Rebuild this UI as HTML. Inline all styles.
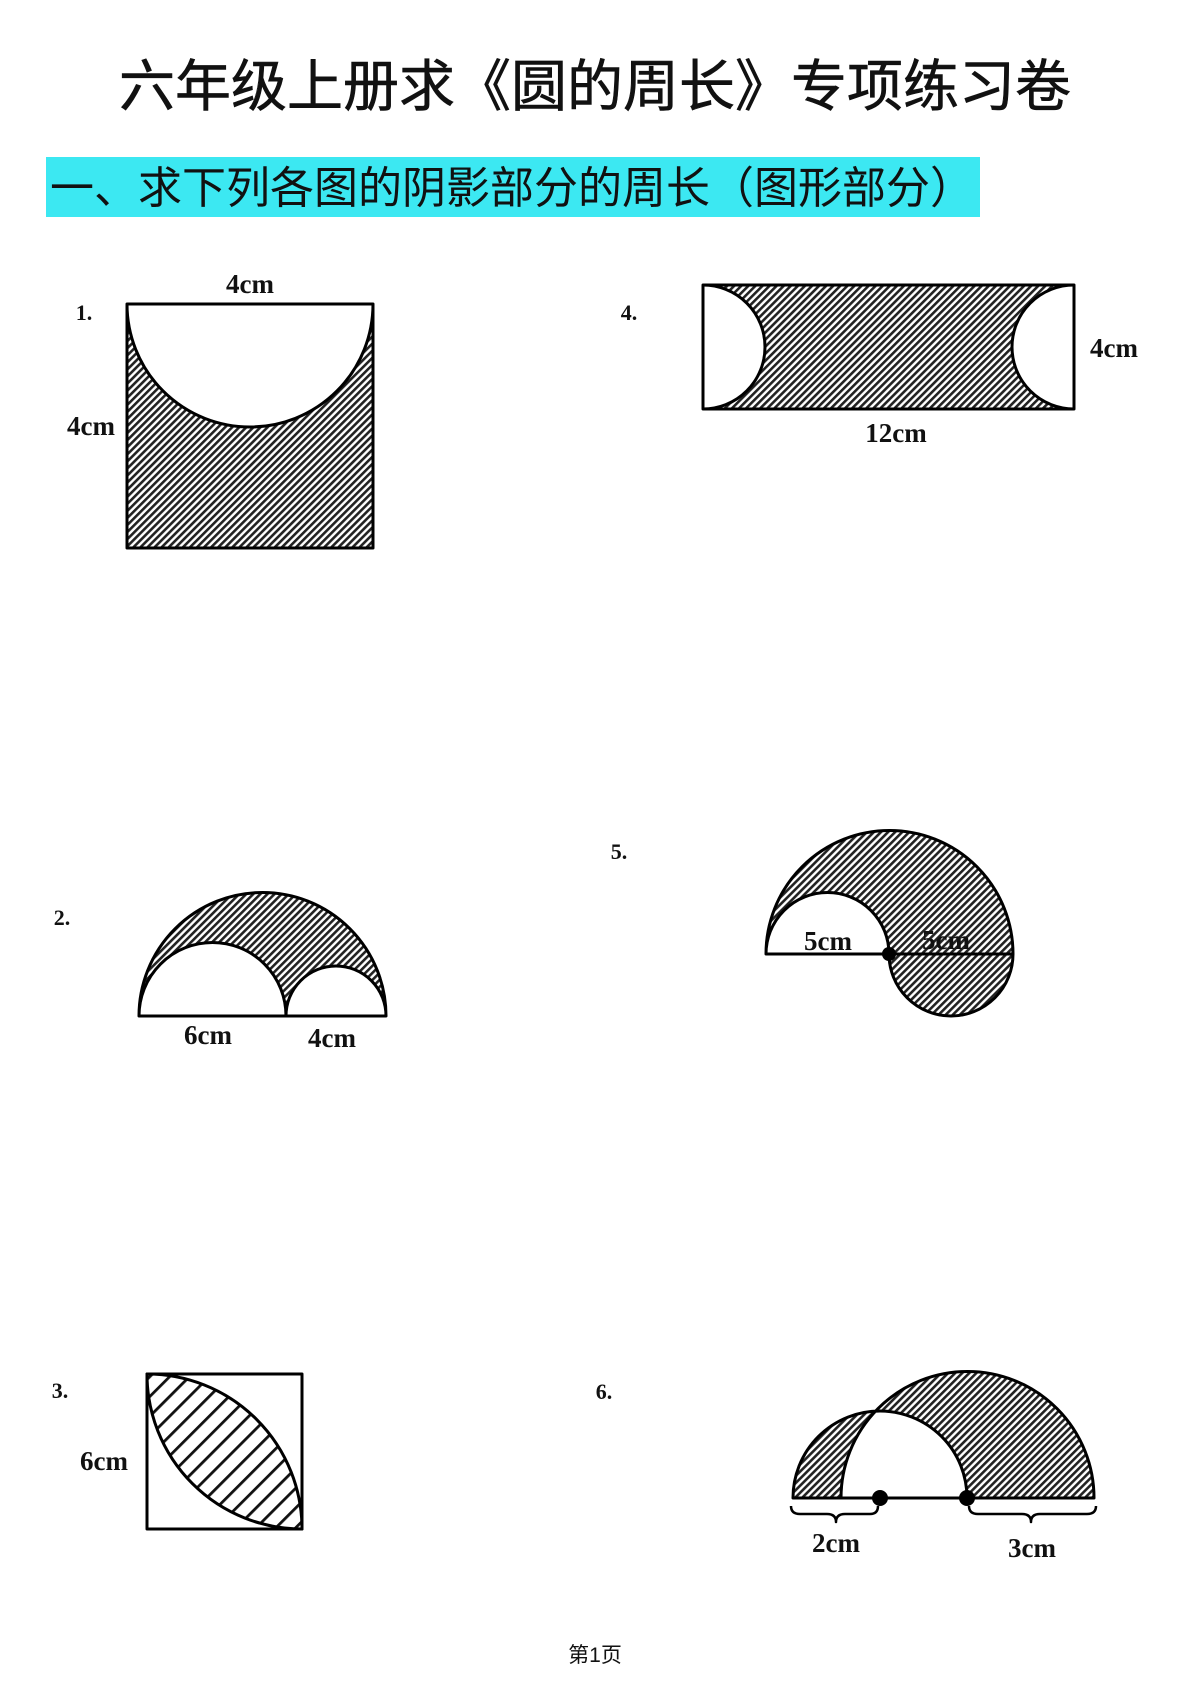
<!DOCTYPE html>
<html><head><meta charset="utf-8"><style>
body{margin:0;background:#fff;}
svg{display:block}
.t{font-family:"Liberation Serif",serif;font-weight:bold;font-size:27px;fill:#111}
.n{font-family:"Liberation Serif",serif;font-weight:bold;font-size:22px;fill:#111}
</style></head><body>
<svg width="1191" height="1684" viewBox="0 0 1191 1684" xmlns="http://www.w3.org/2000/svg">
<defs>
<pattern id="h" width="5" height="5" patternUnits="userSpaceOnUse" patternTransform="rotate(45)">
<rect width="5" height="5" fill="#fff"/><rect width="2.6" height="5" fill="#222"/></pattern>
<pattern id="h2" width="14" height="14" patternUnits="userSpaceOnUse" patternTransform="rotate(45)">
<rect width="14" height="14" fill="#fff"/><rect width="2.8" height="14" fill="#111"/></pattern>
</defs>
<text x="595" y="106" text-anchor="middle" font-family="'Liberation Sans','Noto Sans CJK SC',sans-serif" font-size="56" fill="#111" stroke="#111" stroke-width="0.6">六年级上册求《圆的周长》专项练习卷</text>
<rect x="46" y="157" width="934" height="60" fill="#3ce8f2"/>
<text x="50" y="203" font-family="'Liberation Sans','Noto Sans CJK SC',sans-serif" font-size="44" fill="#111">一、求下列各图的阴影部分的周长（图形部分）</text>

<g stroke="#000" stroke-width="3" stroke-linejoin="round">
<path d="M127,304 A123 123 0 0 0 373,304 L373,548 L127,548 Z" fill="url(#h)"/>
<line x1="127" y1="304" x2="373" y2="304"/>
<path d="M703,285 L1074,285 A62 62 0 0 0 1074,409 L703,409 A62 62 0 0 0 703,285 Z" fill="url(#h)"/>
<line x1="703" y1="285" x2="703" y2="409"/><line x1="1074" y1="285" x2="1074" y2="409"/>
<path d="M139,1016 A123.5 123.5 0 0 1 386,1016 A50 50 0 0 0 286,1016 A73.5 73.5 0 0 0 139,1016 Z" fill="url(#h)"/>
<line x1="139" y1="1016" x2="386" y2="1016"/>
<path d="M766,954 A123.5 123.5 0 0 1 1013,954 A62 62 0 0 1 889,954 A61.5 61.5 0 0 0 766,954 Z" fill="url(#h)"/>
<line x1="766" y1="954" x2="1013" y2="954"/>
<rect x="147" y="1374" width="155" height="155" fill="#fff"/>
<path d="M147,1374 A155 155 0 0 1 302,1529 A155 155 0 0 1 147,1374 Z" fill="url(#h2)"/>
<path fill-rule="evenodd" d="M793,1498 A87 87 0 0 1 967,1498 Z M841,1498 A126.5 126.5 0 0 1 1094,1498 Z" fill="url(#h)"/>
<line x1="793" y1="1498" x2="1094" y2="1498"/>
<path d="M791,1506 Q791,1514 800,1514 L827,1514 Q836,1514 836,1522 Q836,1514 845,1514 L870,1514 Q878,1514 878,1506" fill="none" stroke-width="2.5"/>
<path d="M969,1506 Q969,1514 978,1514 L1022,1514 Q1031,1514 1031,1522 Q1031,1514 1040,1514 L1087,1514 Q1096,1514 1096,1506" fill="none" stroke-width="2.5"/>
</g>
<circle cx="889" cy="954" r="7" fill="#000"/>
<circle cx="880" cy="1498" r="8" fill="#000"/>
<circle cx="967" cy="1498" r="8" fill="#000"/>

<text class="t" x="250" y="293" text-anchor="middle">4cm</text>
<text class="n" x="84" y="320" text-anchor="middle">1.</text>
<text class="t" x="91" y="435" text-anchor="middle">4cm</text>
<text class="n" x="629" y="320" text-anchor="middle">4.</text>
<text class="t" x="1114" y="357" text-anchor="middle">4cm</text>
<text class="t" x="896" y="442" text-anchor="middle">12cm</text>
<text class="n" x="62" y="925" text-anchor="middle">2.</text>
<text class="t" x="208" y="1044" text-anchor="middle">6cm</text>
<text class="t" x="332" y="1047" text-anchor="middle">4cm</text>
<text class="n" x="619" y="859" text-anchor="middle">5.</text>
<text class="t" x="828" y="950" text-anchor="middle">5cm</text>
<text class="t" x="946" y="949" text-anchor="middle">5cm</text>
<text class="n" x="60" y="1398" text-anchor="middle">3.</text>
<text class="t" x="104" y="1470" text-anchor="middle">6cm</text>
<text class="n" x="604" y="1399" text-anchor="middle">6.</text>
<text class="t" x="836" y="1552" text-anchor="middle">2cm</text>
<text class="t" x="1032" y="1557" text-anchor="middle">3cm</text>
<text x="595" y="1662" text-anchor="middle" font-family="'Liberation Sans','Noto Sans CJK SC',sans-serif" font-size="21" fill="#111">第1页</text>
</svg>
</body></html>
